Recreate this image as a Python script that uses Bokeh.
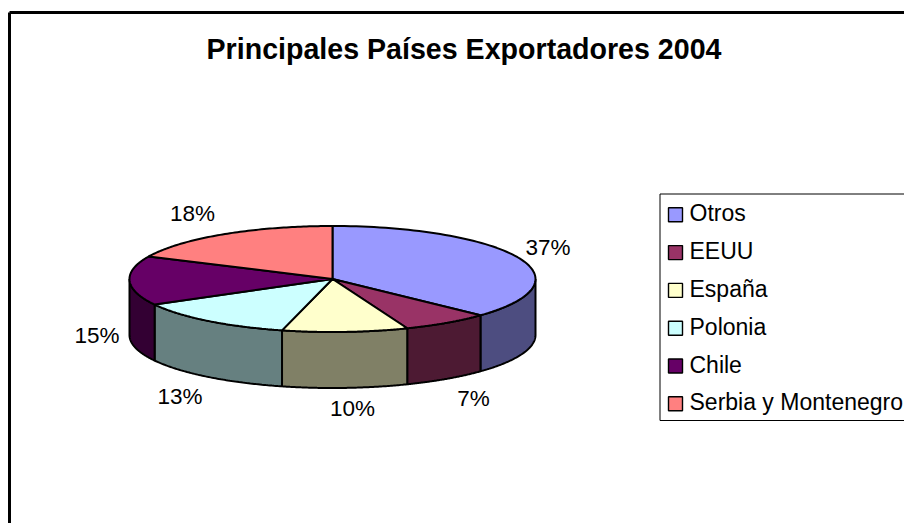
import numpy as np
from bokeh.plotting import figure
from bokeh.models import Range1d
from bokeh.core.properties import value
from bokeh.embed import file_html
from bokeh.resources import INLINE

title = "Principales Países Exportadores 2004"
categories = ["Otros", "EEUU", "España", "Polonia", "Chile", "Serbia y Montenegro"]
shares = [37, 7, 10, 13, 15, 18]
top_colors = ["#9999FF", "#993366", "#FFFFCC", "#CCFFFF", "#660066", "#FF8080"]
side_colors = ["#4D4D80", "#4D1A33", "#808066", "#668080", "#330033", "#804040"]

FONT = value("Liberation Sans")
W, H = 904, 523
p = figure(width=W, height=H, x_range=Range1d(0, W), y_range=Range1d(H, 0),
           x_axis_location=None, y_axis_location=None, toolbar_location=None,
           output_backend="svg", min_border=0, outline_line_color=None,
           background_fill_color="white", border_fill_color="white")
p.grid.visible = False

# Chart frame (only left and top are in view)
p.segment([9, 9], [12, 12], [9, W], [H, 12], line_color="black", line_width=3)

p.text([463.5], [48.5], text=[title], text_font=FONT, text_font_size="28.6px",
       text_font_style="bold", text_align="center", text_baseline="middle", text_color="black")

# Pie
cx, cy, a, b, depth = 332.0, 278.5, 203.0, 53.0, 56.0
edges = np.concatenate([[0], np.cumsum(shares)]) / np.sum(shares) * 2 * np.pi

def arc(t0, t1):
    t = np.linspace(t0, t1, 80)
    return cx + a * np.sin(t), cy - b * np.cos(t)

sx, sy, sc = [], [], []
for i, col in enumerate(side_colors):
    t0, t1 = max(edges[i], np.pi / 2), min(edges[i + 1], 3 * np.pi / 2)
    if t1 <= t0:
        continue
    x, y = arc(t0, t1)
    sx.append(np.concatenate([x, x[::-1]]))
    sy.append(np.concatenate([y, y[::-1] + depth]))
    sc.append(col)
p.patches(sx, sy, fill_color=sc, line_color="black", line_width=2)

tx, ty = [], []
for i in range(len(shares)):
    x, y = arc(edges[i], edges[i + 1])
    tx.append(np.concatenate([[cx], x]))
    ty.append(np.concatenate([[cy], y]))
p.patches(tx, ty, fill_color=top_colors, line_color="black", line_width=2)

# Percentage labels
label_x = [547.5, 192, 473, 352, 179.5, 96.5]
label_y = [246.5, 212.5, 398, 407.5, 396, 335]
label_order = [0, 5, 1, 2, 3, 4]
p.text(label_x, label_y, text=[f"{shares[i]}%" for i in label_order], text_font=FONT,
       text_font_size="22.5px", text_align="center", text_baseline="middle", text_color="black")

# Legend
p.quad(left=[659.5], right=[W + 10], top=[193.5], bottom=[420], fill_color="white",
       line_color="black", line_width=1)
n = len(categories)
row0, step = 214.3, 37.8
rows = [row0 + i * step for i in range(n)]
p.quad(left=[668] * n, right=[682] * n, top=[r - 7 for r in rows], bottom=[r + 7 for r in rows],
       fill_color=top_colors, line_color="black", line_width=1.4)
p.text([689] * n, [r - 1.5 for r in rows], text=categories, text_font=FONT, text_font_size="23px",
       text_align="left", text_baseline="middle", text_color="black")

open("out.html", "w").write(file_html(p, INLINE))
